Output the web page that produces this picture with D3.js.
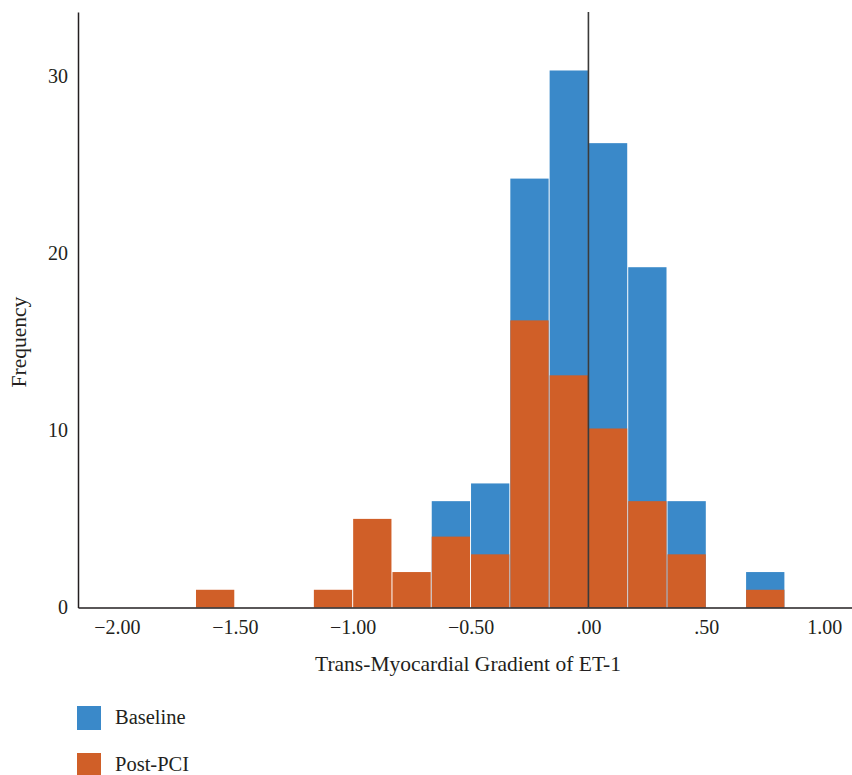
<!DOCTYPE html>
<html>
<head>
<meta charset="utf-8">
<script src="https://cdn.jsdelivr.net/npm/d3@7"></script>
<style>
  body { margin: 0; background: #fff; }
  text { font-family: "Liberation Serif", "DejaVu Serif", serif; fill: #231f20; }
</style>
</head>
<body>
<div id="chart"></div>
<script>
// bin lower edges (bins are 1/6 wide, aligned on zero)
const binStarts = [-10, -9, -8, -7, -6, -5, -4, -3, -2, -1, 0, 1, 2, 3, 4].map(k => k / 6);
const binWidth = 1 / 6;
const baseline = [0, 0, 0, 0, 0, 0, 6, 7, 24.2, 30.3, 26.2, 19.2, 6, 0, 2];
const postPci = [1, 0, 0, 1, 5, 2, 4, 3, 16.2, 13.1, 10.1, 6, 3, 0, 1];
const xTicks = [-2, -1.5, -1, -0.5, 0, 0.5, 1];
const yTicks = [0, 10, 20, 30];
const series = ['Baseline', 'Post-PCI'];
const colors = ['#3a89c9', '#d05f28'];

const width = 852;
const height = 775;

const x = d3.scaleLinear()
    .domain([-2.165, 1.118])
    .range([78, 852]);

const y = d3.scaleLinear()
    .domain([0, 33.6])
    .range([607.5, 12]);

const svg = d3.select('#chart')
    .append('svg')
    .attr('width', width)
    .attr('height', height);

const fmt = v => d3.format('.2f')(v).replace(/^(-?)0\./, '$1.').replace('-', '\u2212');

const bins = binStarts.map((s, i) => ({s: s, base: baseline[i], post: postPci[i]}));

// baseline bars behind, post-PCI in front
svg.append('g')
    .selectAll('rect')
    .data(bins.filter(d => d.base > 0))
    .join('rect')
    .attr('x', d => x(d.s) + 0.5)
    .attr('width', d => x(d.s + binWidth) - x(d.s) - 1)
    .attr('y', d => y(d.base))
    .attr('height', d => y(0) - y(d.base))
    .attr('fill', colors[0]);

svg.append('g')
    .selectAll('rect')
    .data(bins.filter(d => d.post > 0))
    .join('rect')
    .attr('x', d => x(d.s) + 0.5)
    .attr('width', d => x(d.s + binWidth) - x(d.s) - 1)
    .attr('y', d => y(d.post))
    .attr('height', d => y(0) - y(d.post))
    .attr('fill', colors[1]);

// reference line at zero
svg.append('line')
    .attr('x1', x(0)).attr('x2', x(0))
    .attr('y1', y.range()[1]).attr('y2', y(0))
    .attr('stroke', '#3a3a3a')
    .attr('stroke-width', 1.6);

const xAxis = d3.axisBottom(x)
    .tickValues(xTicks)
    .tickSize(0)
    .tickPadding(12)
    .tickFormat(fmt);

const gx = svg.append('g')
    .attr('transform', `translate(0,${y(0)})`)
    .call(xAxis);
gx.select('.domain').attr('stroke', '#231f20').attr('stroke-width', 1.5);
gx.selectAll('text').attr('font-size', 20).attr('font-family', '"Liberation Serif", serif').attr('fill', '#231f20');

const yAxis = d3.axisLeft(y)
    .tickValues(yTicks)
    .tickSize(0)
    .tickPadding(10)
    .tickFormat(d3.format('d'));

const gy = svg.append('g')
    .attr('transform', `translate(${x.range()[0]},0)`)
    .call(yAxis);
gy.select('.domain').attr('stroke', '#231f20').attr('stroke-width', 1.5);
gy.selectAll('text').attr('font-size', 20).attr('font-family', '"Liberation Serif", serif').attr('fill', '#231f20');

svg.append('text')
    .attr('x', 468)
    .attr('y', 671)
    .attr('text-anchor', 'middle')
    .attr('font-size', 21.5)
    .text('Trans-Myocardial Gradient of ET-1');

svg.append('text')
    .attr('transform', 'translate(26,342) rotate(-90)')
    .attr('text-anchor', 'middle')
    .attr('font-size', 21.5)
    .text('Frequency');

const legend = svg.append('g')
    .selectAll('g')
    .data(series)
    .join('g')
    .attr('transform', (d, i) => `translate(77,${706 + i * 47})`);

legend.append('rect')
    .attr('width', 24)
    .attr('height', 24)
    .attr('fill', (d, i) => colors[i]);

legend.append('text')
    .attr('x', 38)
    .attr('y', 18)
    .attr('font-size', 20.5)
    .text(d => d);
</script>
</body>
</html>
